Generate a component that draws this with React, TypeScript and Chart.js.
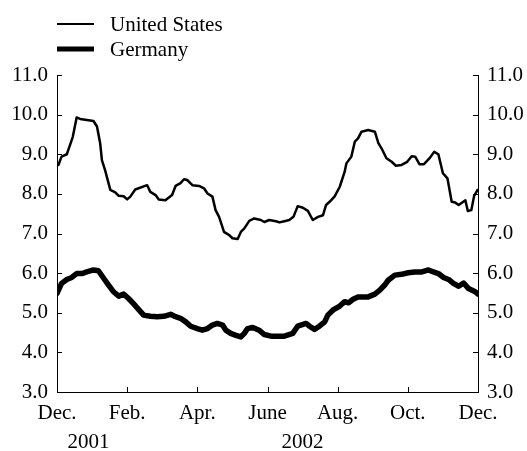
import { useEffect, useRef } from "react";
import { Chart, registerables } from "chart.js";

Chart.register(...registerables);

// Months elapsed since December 2001 (0 = Dec. 2001, 12 = Dec. 2002)
const usMonths = [0, 0.04, 0.13, 0.28, 0.37, 0.45, 0.56, 0.66, 1.04, 1.14, 1.23, 1.28, 1.37, 1.52, 1.66, 1.76, 1.9, 2.0, 2.09, 2.23, 2.57, 2.66, 2.81, 2.9, 3.09, 3.28, 3.38, 3.52, 3.62, 3.71, 3.86, 4.05, 4.19, 4.29, 4.43, 4.52, 4.62, 4.76, 4.91, 5.0, 5.15, 5.24, 5.34, 5.48, 5.62, 5.81, 5.91, 6.05, 6.24, 6.34, 6.48, 6.62, 6.74, 6.86, 7.01, 7.15, 7.29, 7.44, 7.58, 7.67, 7.77, 7.91, 8.06, 8.2, 8.25, 8.39, 8.49, 8.58, 8.68, 8.87, 9.06, 9.16, 9.25, 9.39, 9.54, 9.66, 9.82, 9.97, 10.11, 10.21, 10.33, 10.46, 10.62, 10.75, 10.87, 11.0, 11.13, 11.25, 11.35, 11.45, 11.64, 11.71, 11.81, 11.89, 12.0];
const usRates = [8.77, 8.73, 8.94, 9.0, 9.23, 9.44, 9.93, 9.89, 9.84, 9.7, 9.28, 8.85, 8.6, 8.1, 8.04, 7.95, 7.94, 7.86, 7.93, 8.11, 8.22, 8.05, 7.97, 7.86, 7.84, 7.97, 8.2, 8.27, 8.37, 8.35, 8.22, 8.2, 8.14, 8.01, 7.93, 7.59, 7.42, 7.04, 6.96, 6.88, 6.86, 7.04, 7.13, 7.32, 7.38, 7.34, 7.29, 7.34, 7.31, 7.28, 7.31, 7.34, 7.42, 7.69, 7.65, 7.57, 7.34, 7.42, 7.46, 7.72, 7.8, 7.93, 8.18, 8.56, 8.77, 8.94, 9.32, 9.4, 9.57, 9.61, 9.57, 9.28, 9.15, 8.9, 8.81, 8.71, 8.73, 8.8, 8.95, 8.94, 8.75, 8.75, 8.9, 9.06, 9.0, 8.52, 8.39, 7.8, 7.78, 7.72, 7.84, 7.57, 7.59, 7.95, 8.12];

const deMonths = [0, 0.13, 0.28, 0.42, 0.56, 0.71, 0.85, 1.04, 1.18, 1.33, 1.47, 1.61, 1.76, 1.9, 2.04, 2.18, 2.33, 2.47, 2.66, 2.86, 3.04, 3.24, 3.38, 3.52, 3.67, 3.81, 4.0, 4.14, 4.29, 4.43, 4.57, 4.72, 4.81, 4.95, 5.1, 5.24, 5.34, 5.43, 5.58, 5.76, 5.91, 6.1, 6.34, 6.48, 6.72, 6.86, 7.1, 7.2, 7.34, 7.48, 7.63, 7.72, 7.87, 8.06, 8.2, 8.31, 8.44, 8.58, 8.87, 9.06, 9.2, 9.34, 9.44, 9.63, 9.82, 10.01, 10.2, 10.4, 10.59, 10.73, 10.87, 11.02, 11.16, 11.3, 11.45, 11.59, 11.73, 11.92, 12.0];
const deRates = [5.49, 5.74, 5.84, 5.89, 5.99, 5.99, 6.03, 6.08, 6.06, 5.87, 5.7, 5.53, 5.42, 5.47, 5.36, 5.23, 5.08, 4.94, 4.91, 4.9, 4.91, 4.96, 4.9, 4.86, 4.77, 4.66, 4.6, 4.56, 4.6, 4.69, 4.73, 4.69, 4.56, 4.48, 4.43, 4.39, 4.48, 4.6, 4.63, 4.56, 4.45, 4.41, 4.41, 4.41, 4.48, 4.66, 4.73, 4.66, 4.58, 4.66, 4.77, 4.94, 5.07, 5.17, 5.28, 5.25, 5.34, 5.4, 5.4, 5.47, 5.57, 5.7, 5.82, 5.95, 5.97, 6.01, 6.03, 6.03, 6.08, 6.03, 5.99, 5.89, 5.84, 5.74, 5.67, 5.75, 5.61, 5.53, 5.47];

const seriesNames = ["United States", "Germany"];
const monthTickValues = [0, 2, 4, 6, 8, 10, 12];
const monthTickLabels = ["Dec.", "Feb.", "Apr.", "June", "Aug.", "Oct.", "Dec."];
const yearLabels = ["2001", "2002"];
const yearLabelPositions = [0.9, 7.0];
const yMin = 3;
const yMax = 11;
const yStep = 1;

const FONT = '"Liberation Serif", "Times New Roman", serif';
const FONT_SIZE = 21;

export default function App() {
  const canvasRef = useRef<HTMLCanvasElement | null>(null);

  useEffect(() => {
    const canvas = canvasRef.current;
    if (!canvas) return;

    const toPoints = (xs: number[], ys: number[]) => xs.map((x, i) => ({ x, y: ys[i] }));

    const decor = {
      id: "decor",
      afterDraw(chart: any) {
        const ctx = chart.ctx as CanvasRenderingContext2D;
        const xs = chart.scales.x;
        const yl = chart.scales.y;
        const area = chart.chartArea;
        ctx.save();
        ctx.strokeStyle = "#000";
        ctx.lineWidth = 1;
        // inward tick marks
        for (let v = yMin; v <= yMax; v += yStep) {
          const py = Math.round(yl.getPixelForValue(v)) + 0.5;
          ctx.beginPath();
          ctx.moveTo(area.left, py);
          ctx.lineTo(area.left + 5, py);
          ctx.moveTo(area.right, py);
          ctx.lineTo(area.right - 5, py);
          ctx.stroke();
        }
        monthTickValues.forEach((v) => {
          const px = Math.round(xs.getPixelForValue(v)) + 0.5;
          ctx.beginPath();
          ctx.moveTo(px, area.bottom);
          ctx.lineTo(px, area.bottom - 5);
          ctx.stroke();
        });
        // year labels
        ctx.fillStyle = "#000";
        ctx.font = `${FONT_SIZE}px ${FONT}`;
        ctx.textAlign = "center";
        ctx.textBaseline = "middle";
        yearLabels.forEach((t, i) => {
          ctx.fillText(t, xs.getPixelForValue(yearLabelPositions[i]), 442);
        });
        // legend
        const widths = [2, 5];
        const rows = [25, 50];
        ctx.textAlign = "left";
        seriesNames.forEach((name, i) => {
          ctx.beginPath();
          ctx.lineWidth = widths[i];
          ctx.moveTo(57, rows[i] - 1);
          ctx.lineTo(94, rows[i] - 1);
          ctx.stroke();
          ctx.fillText(name, 110, rows[i]);
        });
        ctx.restore();
      },
    };

    const chart = new Chart(canvas, {
      type: "line",
      data: {
        datasets: [
          {
            label: seriesNames[0],
            data: toPoints(usMonths, usRates),
            borderColor: "#000",
            borderWidth: 2.5,
            pointRadius: 0,
            tension: 0,
            borderJoinStyle: "round",
            yAxisID: "y",
          },
          {
            label: seriesNames[1],
            data: toPoints(deMonths, deRates),
            borderColor: "#000",
            borderWidth: 5.5,
            pointRadius: 0,
            tension: 0,
            borderJoinStyle: "round",
            borderCapStyle: "round",
            yAxisID: "y",
          },
        ],
      },
      options: {
        responsive: false,
        animation: false,
        layout: { padding: { top: 75, left: 0, right: 0, bottom: 0 } },
        plugins: { legend: { display: false }, tooltip: { enabled: false } },
        scales: {
          x: {
            type: "linear",
            min: 0,
            max: 12,
            afterBuildTicks: (scale: any) => {
              scale.ticks = monthTickValues.map((v) => ({ value: v }));
            },
            afterFit: (scale: any) => {
              scale.height = 59;
            },
            ticks: {
              autoSkip: false,
              maxRotation: 0,
              padding: 9,
              color: "#000",
              font: { family: FONT, size: FONT_SIZE },
              callback: (v: any) => {
                const i = monthTickValues.indexOf(Number(v));
                return i >= 0 ? monthTickLabels[i] : "";
              },
            },
            grid: { display: false, drawTicks: false },
            border: { display: true, color: "#000", width: 1 },
          },
          y: {
            type: "linear",
            position: "left",
            min: yMin,
            max: yMax,
            afterFit: (scale: any) => {
              scale.width = 57;
            },
            ticks: {
              stepSize: yStep,
              padding: 9,
              color: "#000",
              font: { family: FONT, size: FONT_SIZE },
              callback: (v: any) => Number(v).toFixed(1),
            },
            grid: { display: false, drawTicks: false },
            border: { display: true, color: "#000", width: 1 },
          },
          y2: {
            type: "linear",
            position: "right",
            display: true,
            min: yMin,
            max: yMax,
            afterFit: (scale: any) => {
              scale.width = 49;
            },
            ticks: {
              stepSize: yStep,
              padding: 9,
              color: "#000",
              font: { family: FONT, size: FONT_SIZE },
              callback: (v: any) => Number(v).toFixed(1),
            },
            grid: { display: false, drawTicks: false },
            border: { display: true, color: "#000", width: 1 },
          },
        },
      },
      plugins: [decor],
    } as any);

    return () => chart.destroy();
  }, []);

  return (
    <div style={{ position: "fixed", left: 0, top: 0, width: 527, height: 451, background: "#fff" }}>
      <canvas ref={canvasRef} width={527} height={451} style={{ display: "block" }} />
    </div>
  );
}
